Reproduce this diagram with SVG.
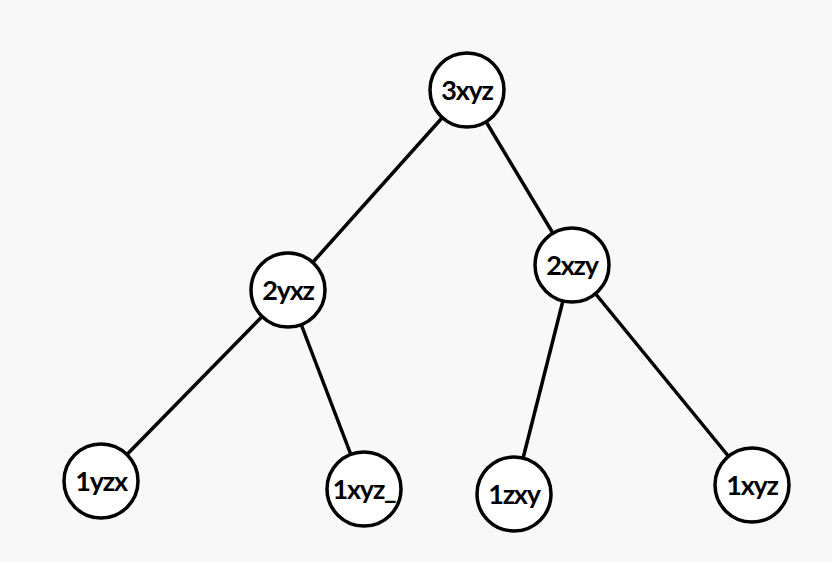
<svg xmlns="http://www.w3.org/2000/svg" width="832" height="562" viewBox="0 0 832 562">
<style>
.edge{stroke:#000;stroke-width:3.5;fill:none}
.node circle{fill:#fff;stroke:#000;stroke-width:3.5}
.node text{font-family:Lato,"Liberation Sans",sans-serif;font-weight:bold;font-size:27px;letter-spacing:-1.2px;text-anchor:middle;fill:#000}
</style>
<rect width="832" height="562" fill="#f8f8f8"/>
<g id="connectors">
<line class="edge" x1="467" y1="90" x2="288" y2="290"/>
<line class="edge" x1="467" y1="90" x2="572" y2="265"/>
<line class="edge" x1="288" y1="290" x2="101" y2="481"/>
<line class="edge" x1="288" y1="290" x2="364" y2="489"/>
<line class="edge" x1="572" y1="265" x2="514" y2="494"/>
<line class="edge" x1="572" y1="265" x2="752" y2="485"/>
</g>
<g id="n3xyz" class="node"><circle cx="467" cy="90" r="37"/><text x="467" y="100">3xyz</text></g>
<g id="n2yxz" class="node"><circle cx="288" cy="290" r="37"/><text x="288" y="300">2yxz</text></g>
<g id="n2xzy" class="node"><circle cx="572" cy="265" r="37"/><text x="572" y="275">2xzy</text></g>
<g id="n1yzx" class="node"><circle cx="101" cy="481" r="37"/><text x="101" y="491">1yzx</text></g>
<g id="n1xyz_" class="node"><circle cx="364" cy="489" r="37"/><text x="364" y="499">1xyz_</text></g>
<g id="n1zxy" class="node"><circle cx="514" cy="494" r="37"/><text x="514" y="504">1zxy</text></g>
<g id="n1xyz" class="node"><circle cx="752" cy="485" r="37"/><text x="752" y="495">1xyz</text></g>
</svg>
